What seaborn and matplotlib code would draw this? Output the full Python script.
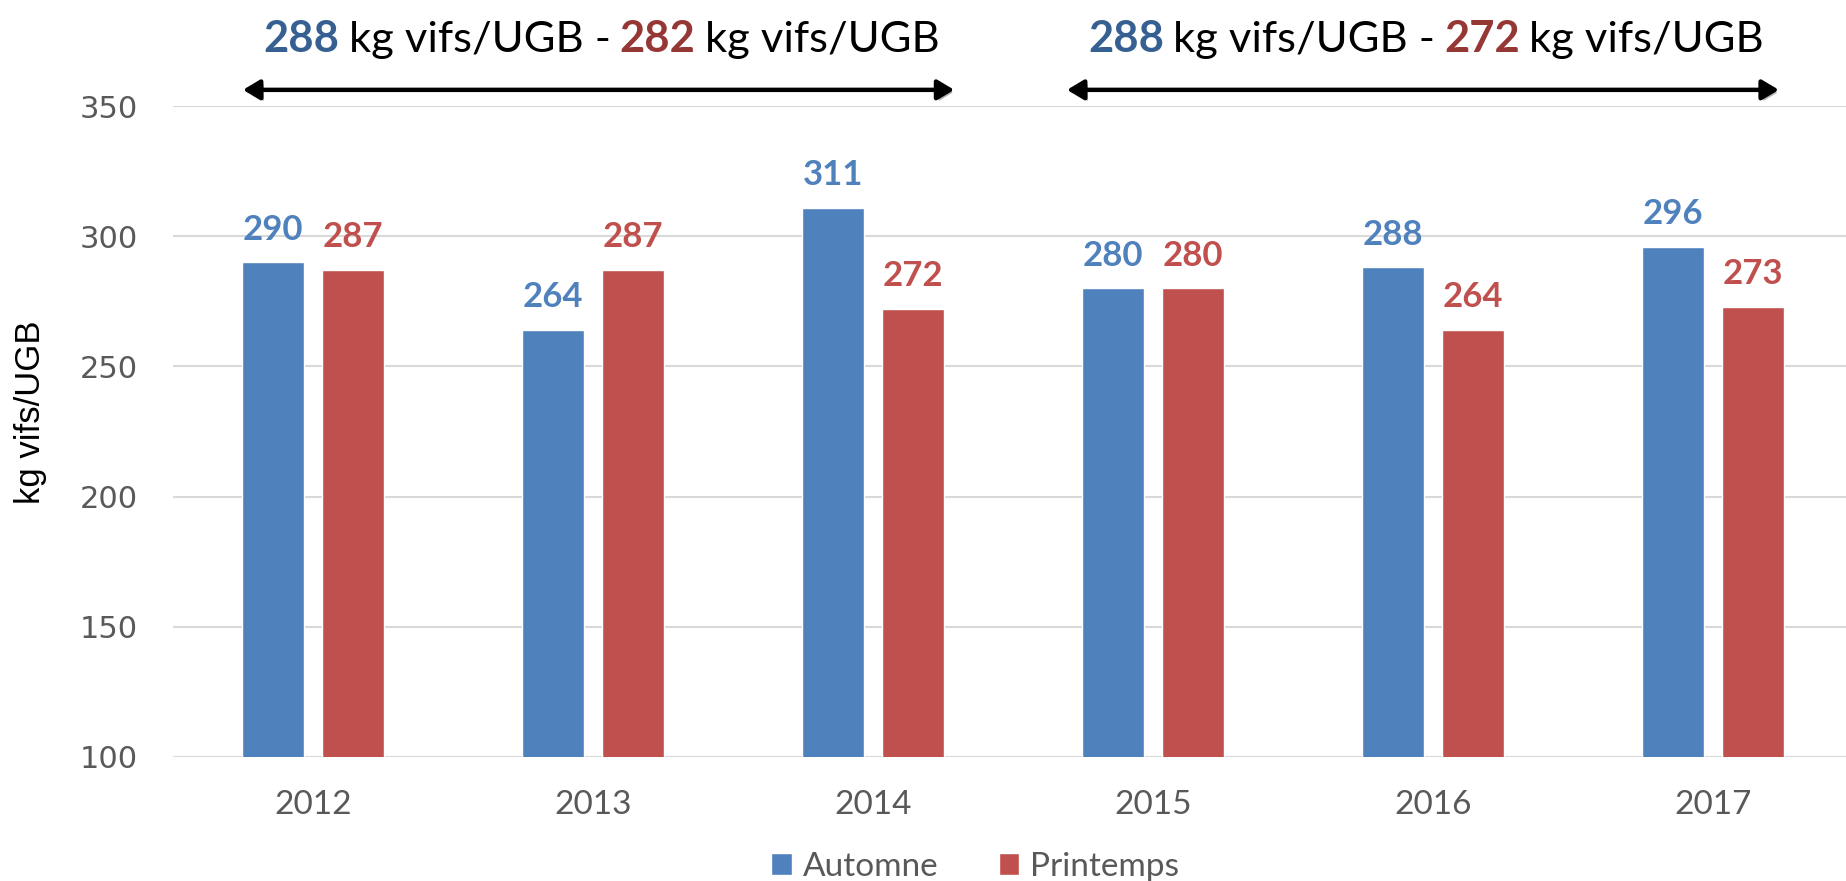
import matplotlib
matplotlib.use("Agg")
import matplotlib.pyplot as plt
import matplotlib.patheffects as pe
from matplotlib.offsetbox import TextArea, HPacker, AnnotationBbox
from matplotlib.patches import Patch
import seaborn as sns
import pandas as pd

years = ["2012", "2013", "2014", "2015", "2016", "2017"]
automne = [290, 264, 311, 280, 288, 296]
printemps = [287, 287, 272, 280, 264, 273]
series_names = ["Automne", "Printemps"]
yticks = [100, 150, 200, 250, 300, 350]

period_labels = [("288", "282"), ("288", "272")]
period_spans = [(-0.25, 2.29), (2.693, 5.235)]

BLUE = "#4F81BD"
RED = "#C0504D"
DBLUE = "#376092"
DRED = "#953735"
GRAY = "#595959"

df = pd.DataFrame({
    "year": years * 2,
    "value": automne + printemps,
    "season": [series_names[0]] * len(years) + [series_names[1]] * len(years),
})

sns.set_theme(style="white")
plt.rcParams["font.family"] = ["Lato", "DejaVu Sans"]

fig = plt.figure(figsize=(18.46, 8.81), dpi=100)
ax = fig.add_axes([173 / 1846, 124 / 881, 1680 / 1846, 651 / 881])

sns.barplot(data=df, x="year", y="value", hue="season", palette=[BLUE, RED],
            width=0.571, gap=0.236, saturation=1, legend=False, ax=ax, zorder=2)

ax.set_ylim(100, 350)
ax.set_xlim(-0.5, 5.5)
ax.set_yticks(yticks)
ax.grid(axis="y", color="#D9D9D9", lw=1.5, zorder=0)
ax.set_axisbelow(True)
for s in ax.spines.values():
    s.set_visible(False)

ax.tick_params(axis="y", length=0, pad=25, labelsize=22, labelcolor=GRAY)
ax.tick_params(axis="x", length=0, pad=24, labelsize=24, labelcolor=GRAY)
for t in ax.get_yticklabels():
    t.set_family("DejaVu Sans")

ax.set_xlabel("")
ax.set_ylabel("kg vifs/UGB", family="Liberation Sans", fontsize=25, color="black")
ax.yaxis.set_label_coords((47 - 173) / 1680, 0.53)

label_colors = [BLUE, RED]
for cont, c in zip(ax.containers, label_colors):
    ax.bar_label(cont, padding=12, fontsize=25, fontweight="bold", color=c,
                 family="Lato", fmt="%d")

# period arrows and texts
for (x0, x1), (a, b) in zip(period_spans, period_labels):
    ax.annotate("", xy=(x1, 356.2), xytext=(x0, 356.2), xycoords="data",
                annotation_clip=False,
                arrowprops=dict(arrowstyle="<|-|>,head_length=0.5,head_width=0.3",
                                lw=3.2, color="black", shrinkA=0, shrinkB=0,
                                mutation_scale=20,
                                path_effects=[pe.SimplePatchShadow(offset=(2, -2), alpha=0.3),
                                              pe.Normal()]))
    fs = 31.3
    parts = [
        TextArea(a, textprops=dict(family="Lato", size=fs, weight="bold", color=DBLUE)),
        TextArea("kg vifs/UGB -", textprops=dict(family="Lato", size=fs, color="black")),
        TextArea(b, textprops=dict(family="Lato", size=fs, weight="bold", color=DRED)),
        TextArea("kg vifs/UGB", textprops=dict(family="Lato", size=fs, color="black")),
    ]
    box = HPacker(children=parts, align="baseline", pad=0, sep=6.5)
    ab = AnnotationBbox(box, ((x0 + x1) / 2 + 0.01, 375.7), xycoords="data",
                        frameon=False, box_alignment=(0.5, 0.5),
                        annotation_clip=False)
    ax.add_artist(ab)

handles = [Patch(facecolor=BLUE), Patch(facecolor=RED)]
fig.legend(handles, series_names, loc="center", bbox_to_anchor=(0.5284, 0.016),
           ncol=2, frameon=False, fontsize=24, labelcolor=GRAY,
           handlelength=0.62, handleheight=0.62, handletextpad=0.33,
           columnspacing=1.8)

fig.savefig("out.png", dpi=100)
